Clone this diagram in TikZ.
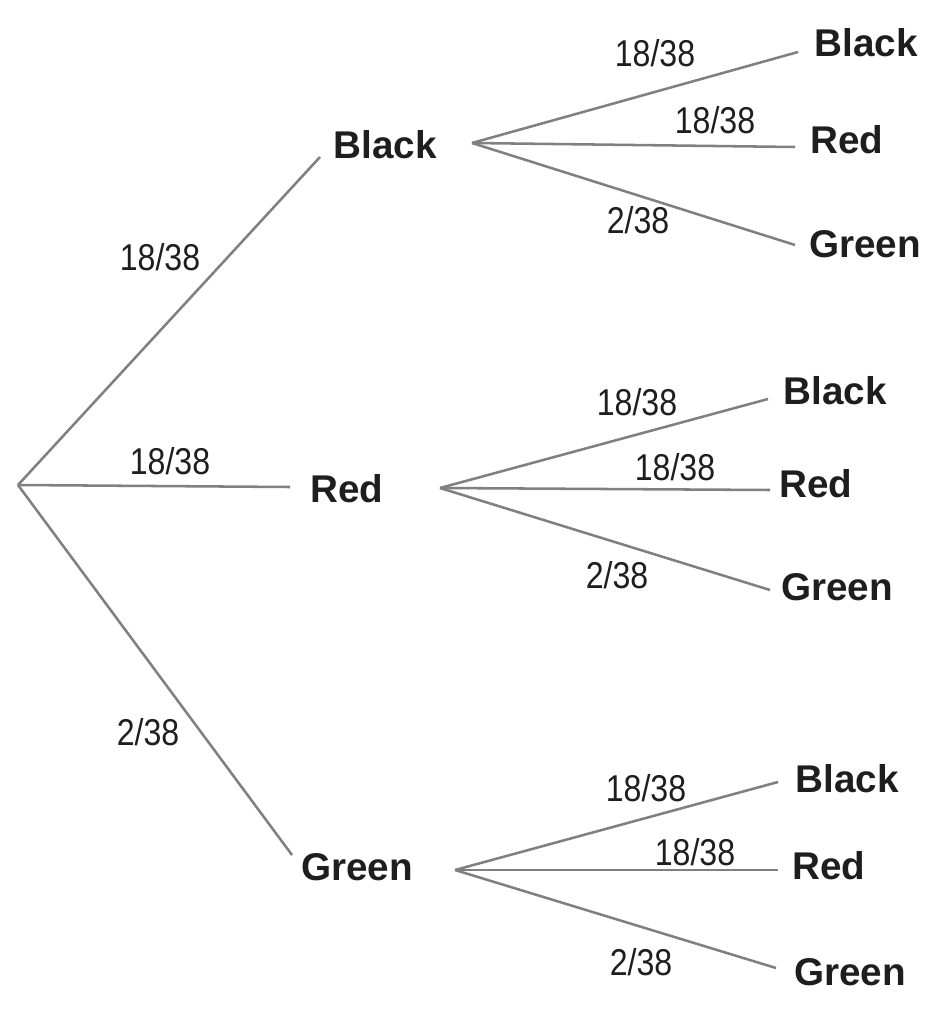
\documentclass[tikz,border=0pt]{standalone}
\usepackage{fontspec}
\setmainfont{Liberation Sans}
\newfontfamily\fracfont[FakeStretch=0.86]{Liberation Sans}
\definecolor{edgegray}{RGB}{128,128,128}
\definecolor{txt}{RGB}{30,30,30}
\begin{document}
\begin{tikzpicture}[x=0.75pt,y=-0.75pt,
  outcome/.style={inner sep=0pt,text=txt,font=\fontsize{29}{31}\selectfont\bfseries},
  prob/.style={inner sep=0pt,text=txt,font=\fontsize{28}{30}\selectfont\fracfont},
  branch/.style={draw=edgegray,line width=1.9pt}]
\useasboundingbox (0,0) rectangle (942,1013);
% root
\coordinate (root) at (18,485);
% level 1 nodes
\node[outcome] (B) at (385,145) {Black};
\node[outcome] (R) at (347,489) {Red};
\node[outcome] (G) at (357,867) {Green};
\coordinate (B-in) at (320,157);
\coordinate (R-in) at (290,487);
\coordinate (G-in) at (292,855);
\coordinate (B-out) at (472,143);
\coordinate (R-out) at (440,488);
\coordinate (G-out) at (455,870);
% level 2 nodes
\node[outcome] (BB) at (866,43) {Black};
\node[outcome] (BR) at (847,140) {Red};
\node[outcome] (BG) at (865,244) {Green};
\node[outcome] (RB) at (835,391) {Black};
\node[outcome] (RR) at (816,484) {Red};
\node[outcome] (RG) at (837,587) {Green};
\node[outcome] (GB) at (847,779) {Black};
\node[outcome] (GR) at (829,866) {Red};
\node[outcome] (GG) at (850,972) {Green};
\coordinate (BB-in) at (798,52);
\coordinate (BR-in) at (795,147);
\coordinate (BG-in) at (795,245);
\coordinate (RB-in) at (768,399);
\coordinate (RR-in) at (770,490);
\coordinate (RG-in) at (770,590);
\coordinate (GB-in) at (778,782);
\coordinate (GR-in) at (778,870);
\coordinate (GG-in) at (776,968);
% edges
\draw[branch] (root) -- (B-in);
\draw[branch] (root) -- (R-in);
\draw[branch] (root) -- (G-in);
\draw[branch] (B-out) -- (BB-in);
\draw[branch] (B-out) -- (BR-in);
\draw[branch] (B-out) -- (BG-in);
\draw[branch] (R-out) -- (RB-in);
\draw[branch] (R-out) -- (RR-in);
\draw[branch] (R-out) -- (RG-in);
\draw[branch] (G-out) -- (GB-in);
\draw[branch] (G-out) -- (GR-in);
\draw[branch] (G-out) -- (GG-in);
% probabilities
\node[prob] (pB) at (160,257) {18/38};
\node[prob] (pR) at (170,461) {18/38};
\node[prob] (pG) at (148,732) {2/38};
\node[prob] (pBB) at (655,53) {18/38};
\node[prob] (pBR) at (715,120) {18/38};
\node[prob] (pBG) at (638,220) {2/38};
\node[prob] (pRB) at (637,402) {18/38};
\node[prob] (pRR) at (675,467) {18/38};
\node[prob] (pRG) at (617,575) {2/38};
\node[prob] (pGB) at (646,788) {18/38};
\node[prob] (pGR) at (695,852) {18/38};
\node[prob] (pGG) at (641,962) {2/38};
\end{tikzpicture}
\end{document}
